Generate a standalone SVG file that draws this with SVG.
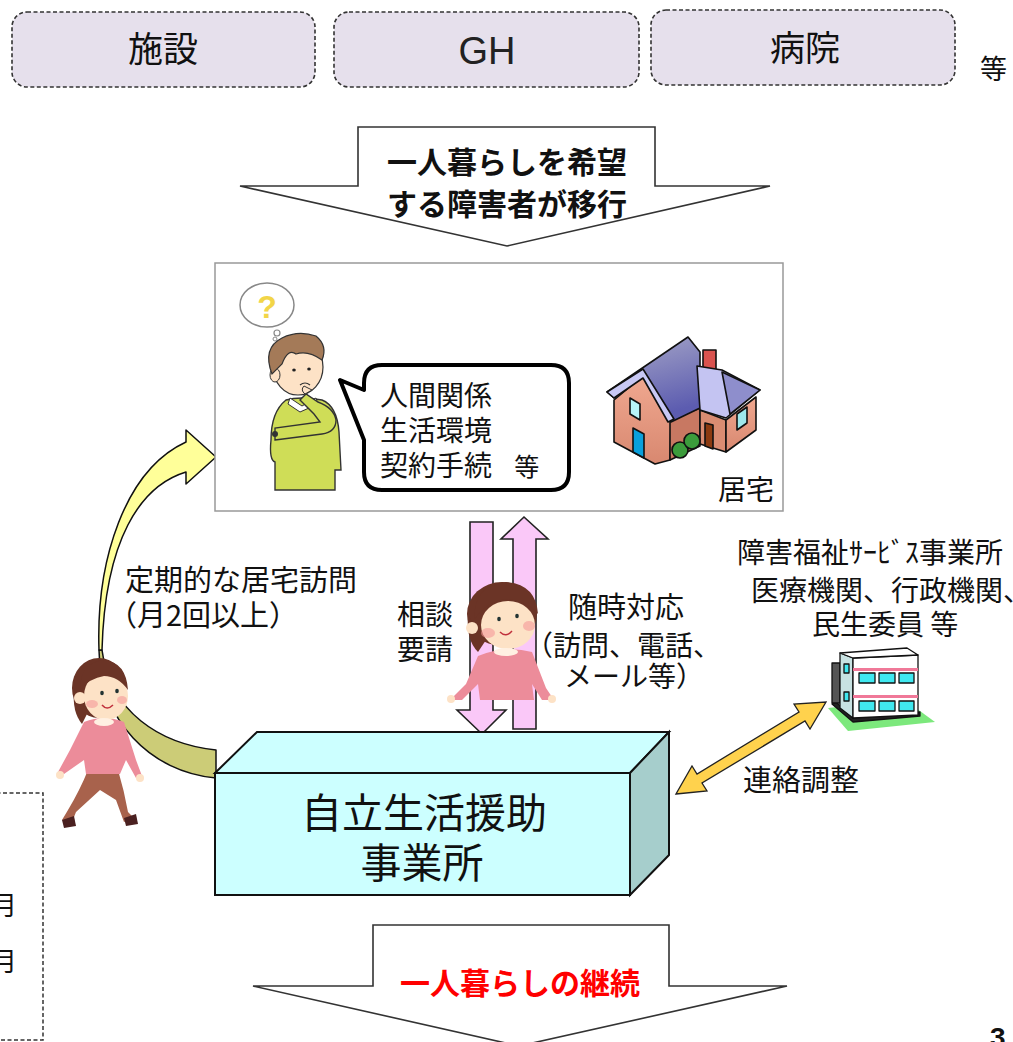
<svg xmlns="http://www.w3.org/2000/svg" width="1013" height="1042" viewBox="0 0 1013 1042">
<defs>
<style>
.t{font-family:"Noto Sans CJK JP","Noto Sans",sans-serif;fill:#111}
.b{font-weight:bold}
.src{fill:#E6E0EC;stroke:#333;stroke-width:1.6;stroke-dasharray:4 2.5}
.blk{fill:#fff;stroke:#333;stroke-width:1.6;stroke-linejoin:miter}
.pk{fill:#FAC8F8;stroke:#222;stroke-width:1.6}
.ol{stroke:#111;stroke-width:1.5;stroke-linejoin:round}
.hair{fill:#6B3426}
.skin{fill:#FDE2C6}
.cheek{fill:#F59A9A;opacity:0.6}
</style>
<linearGradient id="roofG" x1="0" y1="0" x2="0.3" y2="1">
<stop offset="0" stop-color="#A8A8C8"/><stop offset="1" stop-color="#5C5CB0"/>
</linearGradient>
<linearGradient id="wallG" x1="0" y1="0" x2="0" y2="1">
<stop offset="0" stop-color="#F0A890"/><stop offset="1" stop-color="#D88870"/>
</linearGradient>
</defs>
<rect width="1013" height="1042" fill="#fff"/>

<!-- source places -->
<g id="node-shisetsu">
<rect class="src" x="12" y="12" width="303" height="75" rx="15"/>
<text class="t" x="163" y="62" font-size="35" text-anchor="middle">施設</text>
</g>
<g id="node-gh">
<rect class="src" x="334" y="12" width="305" height="75" rx="15"/>
<text x="487" y="64" font-size="38" text-anchor="middle" font-family="Liberation Sans, Arial, sans-serif" fill="#222">GH</text>
</g>
<g id="node-byoin">
<rect class="src" x="651" y="10" width="304" height="75" rx="15"/>
<text class="t" x="805" y="61" font-size="35" text-anchor="middle">病院</text>
</g>
<text class="t" id="label-tou" x="980" y="79" font-size="27">等</text>

<!-- connectors -->
<g id="connectors">
<polygon class="blk" points="358,127 655,127 655,186 770,186 507,246 240,186 358,186"/>
<text class="t b" x="507" y="173" font-size="30" text-anchor="middle">一人暮らしを希望</text>
<text class="t b" x="507" y="215" font-size="30" text-anchor="middle">する障害者が移行</text>

<path d="M99,650 C100,720 150,772 216,778 L216,750 C160,744 110,712 102,650 Z" fill="#CCCC77" class="ol"/>
<path d="M186,442 L186,430 L216,457 L186,484 L186,472 C140,486 105,540 102,650 L99,650 C96,560 125,470 186,442 Z" fill="#FFFF99" class="ol"/>

<polygon class="pk" points="470,522 493,522 493,710 506,710 482,734 457,710 470,710"/>
<polygon class="pk" points="513,729 536,729 536,539 548,539 524,517 501,539 513,539"/>

<polygon points="676,794 707,791 702,783 805,721 810,729 826,702 794,704 799,712 697,774 692,766" fill="#FFD24D" stroke="#222" stroke-width="1.3" stroke-linejoin="miter"/>

<polygon class="blk" points="373,925 669,925 669,986 787,986 519,1046 253,986 373,986"/>
<text class="b" x="520" y="994" font-size="30" text-anchor="middle" font-family="Noto Sans CJK JP, sans-serif" fill="#FF0000">一人暮らしの継続</text>
</g>

<!-- residence -->
<g id="node-kyotaku">
<rect x="215" y="263" width="568" height="248" fill="#fff" stroke="#999" stroke-width="1.5"/>
<g id="man">
<ellipse cx="267" cy="305" rx="27" ry="22" fill="#fff" stroke="#888" stroke-width="1.5"/>
<circle cx="277" cy="333" r="3" fill="#fff" stroke="#888" stroke-width="1.2"/>
<circle cx="275" cy="339" r="2" fill="#fff" stroke="#888" stroke-width="1"/>
<text x="267" y="318" font-size="32" font-weight="bold" text-anchor="middle" font-family="Liberation Sans, sans-serif" fill="#F2D548">?</text>
<path d="M286,400 Q300,396 322,400 Q337,406 339,432 L341,470 L335,470 L335,490 L275,490 L275,462 Q269,460 271,440 Q271,412 286,400 Z" fill="#CFDD57" stroke="#333" stroke-width="1.4"/>
<path d="M290,398 L302,406 L316,398 L318,404 L300,412 L288,404 Z" fill="#fff" stroke="#333" stroke-width="1"/>
<path d="M275,440 L322,434 Q336,432 336,420 Q334,408 318,402 L306,394 L300,400 L314,414 L320,422 L275,428 Z" fill="#CFDD57" stroke="#333" stroke-width="1.4"/>
<circle cx="275" cy="434" r="3" fill="#333"/>
<ellipse cx="298" cy="367" rx="25" ry="28" class="skin" stroke="#333" stroke-width="1.2"/>
<ellipse cx="275" cy="375" rx="5" ry="7" class="skin" stroke="#333" stroke-width="1"/>
<path d="M272,374 Q262,348 282,338 Q298,330 316,336 Q328,346 322,360 Q308,350 296,354 Q288,348 282,364 Z" fill="#A47A58" stroke="#333" stroke-width="1.2"/>
<ellipse cx="294" cy="370" rx="1.8" ry="1.5" fill="#222"/>
<ellipse cx="309" cy="369" rx="1.8" ry="1.5" fill="#222"/>
<path d="M300,385 Q305,381 310,385" fill="none" stroke="#333" stroke-width="1.2"/>
<path d="M305,394 Q300,390 304,386 L312,390 Z" class="skin" stroke="#333" stroke-width="1"/>
</g>
<path d="M382,365 H551 Q569,365 569,383 V472 Q569,490 551,490 H382 Q364,490 364,472 V440 L340,380 L364,390 V383 Q364,365 382,365 Z" fill="#fff" stroke="#000" stroke-width="4" stroke-linejoin="round"/>
<text class="t" x="380" y="406" font-size="28">人間関係</text>
<text class="t" x="380" y="441" font-size="28">生活環境</text>
<text class="t" x="380" y="476" font-size="28">契約手続 <tspan font-size="25" dx="16">等</tspan></text>
<g id="house" stroke="#111" stroke-width="1.6" stroke-linejoin="round">
<polygon points="614,400 643,376 671,420 670,460 655,464 614,442" fill="url(#wallG)"/>
<polygon points="670,420 700,408 700,446 670,460" fill="#C87862"/>
<polygon points="700,410 726,420 726,452 700,444" fill="#D98C72"/>
<polygon points="726,420 756,397 756,430 726,452" fill="url(#wallG)"/>
<polygon points="607,392 688,337 700,352 700,408 671,422 643,374 614,398" fill="url(#roofG)"/>
<polygon points="607,392 643,369 674,419 668,422 643,378 614,398" fill="#C8C8F4"/>
<rect x="703" y="350" width="13" height="22" fill="#D9534F"/>
<polygon points="697,366 722,370 760,390 726,418 700,410" fill="#C4C4F2"/>
<polygon points="722,372 760,390 730,414" fill="#8E8ECC"/>
<polygon points="630,398 640,404 640,420 630,414" fill="#B8F4F8"/>
<polygon points="633,428 644,434 644,458 633,452" fill="#0AA0DC"/>
<polygon points="705,423 713,425 713,449 705,446" fill="#8B3A10"/>
<polygon points="737,414 747,407 747,423 737,430" fill="#9EE8EC"/>
<circle cx="680" cy="450" r="8" fill="#3C9C3C"/>
<circle cx="692" cy="441" r="8" fill="#3C9C3C"/>
</g>
<text class="t" x="718" y="500" font-size="28">居宅</text>
</g>

<g id="label-visit">
<text class="t" x="125" y="591" font-size="29">定期的な居宅訪問</text>
<text class="t" x="108" y="626" font-size="29">（月2回以上）</text>
</g>
<g id="label-soudan">
<text class="t" x="397" y="625" font-size="28">相談</text>
<text class="t" x="397" y="660" font-size="28">要請</text>
</g>
<g id="label-zuiji">
<text class="t" x="626" y="618" font-size="29" text-anchor="middle">随時対応</text>
<text class="t" x="623" y="656" font-size="28" text-anchor="middle">（訪問、電話、</text>
<text class="t" x="634" y="687" font-size="28" text-anchor="middle">メール等）</text>
</g>

<g id="woman-left">
<path d="M88,770 L118,770 Q124,790 128,812 L134,818 L124,822 L116,800 L100,790 L76,812 L72,822 L62,820 L68,810 Q80,790 88,770 Z" fill="#A8624C"/>
<path d="M62,820 L74,816 L76,826 L64,828 Z" fill="#4A2020"/>
<path d="M124,818 L136,814 L138,824 L126,826 Z" fill="#4A2020"/>
<path d="M84,722 Q104,714 124,722 L136,760 L142,776 L136,778 L126,760 L120,774 L86,774 L84,760 L64,774 L58,772 L70,750 Z" fill="#EC8C9A"/>
<circle cx="60" cy="775" r="4" class="skin"/>
<circle cx="140" cy="778" r="4" class="skin"/>
<ellipse cx="99" cy="688" rx="27" ry="30" class="hair"/>
<path d="M74,690 Q72,712 82,724 L88,712 Z" class="hair"/>
<ellipse cx="106" cy="696" rx="22" ry="24" class="skin"/>
<path d="M80,690 Q80,662 104,660 Q126,662 128,690 Q118,676 104,676 Q90,678 80,690 Z" class="hair"/>
<circle cx="80" cy="698" r="6" class="skin"/>
<ellipse cx="92" cy="704" rx="6" ry="4" class="cheek"/>
<ellipse cx="122" cy="700" rx="5" ry="4" class="cheek"/>
<ellipse cx="102" cy="693" rx="1.8" ry="2.2" fill="#233"/>
<ellipse cx="117" cy="691" rx="1.8" ry="2.2" fill="#233"/>
<path d="M102,705 Q107,711 113,705" fill="none" stroke="#C0303C" stroke-width="1.5"/>
<ellipse cx="104" cy="722" rx="10" ry="4" fill="#FFF0E2"/>
</g>

<g id="woman-center">
<path d="M478,656 Q505,645 532,652 L546,688 L554,700 L542,700 L532,684 L534,700 L480,700 L478,684 L462,700 L450,700 L466,684 Z" fill="#EC8C9A"/>
<circle cx="451" cy="699" r="4" class="skin"/>
<circle cx="552" cy="699" r="4" class="skin"/>
<ellipse cx="502" cy="614" rx="35" ry="32" class="hair"/>
<path d="M468,616 Q466,640 478,652 L486,640 Z" class="hair"/>
<ellipse cx="508" cy="625" rx="27" ry="24" class="skin"/>
<path d="M474,620 Q474,584 506,582 Q536,584 538,614 Q526,600 507,599 Q488,600 474,620 Z" class="hair"/>
<circle cx="472" cy="628" r="6" class="skin"/>
<ellipse cx="488" cy="633" rx="7" ry="5" class="cheek"/>
<ellipse cx="529" cy="626" rx="6" ry="5" class="cheek"/>
<ellipse cx="499" cy="619" rx="1.8" ry="2.2" fill="#233"/>
<ellipse cx="517" cy="616" rx="1.8" ry="2.2" fill="#233"/>
<path d="M500,632 Q506,638 512,631" fill="none" stroke="#C0303C" stroke-width="1.5"/>
<ellipse cx="506" cy="652" rx="12" ry="4" fill="#FFF0E2"/>
</g>

<g id="node-others">
<text class="t" x="737" y="563" font-size="28">障害福祉ｻｰﾋﾞｽ事業所</text>
<text class="t" x="751" y="601" font-size="28">医療機関、行政機関、</text>
<text class="t" x="812" y="635" font-size="28">民生委員 等</text>
<g id="building" stroke="#111" stroke-width="1.3" stroke-linejoin="round">
<polygon points="828,708 848,731 935,722 905,700" fill="#7CE87C" stroke="none"/>
<polygon points="832,704 853,722 920,716 920,712 853,718 836,702" fill="#222"/>
<rect x="832" y="663" width="8" height="40" fill="#555"/>
<polygon points="840,653 853,658 853,718 840,708" fill="#C8E2E2"/>
<polygon points="853,658 918,655 918,715 853,718" fill="#fff"/>
<polygon points="840,653 907,648 918,655 853,658" fill="#fff"/>
<rect x="853" y="668" width="65" height="3" fill="#F07898" stroke="none"/>
<rect x="853" y="695" width="65" height="3" fill="#F07898" stroke="none"/>
<rect x="859" y="673" width="16" height="10" fill="#40E8F0"/>
<rect x="879" y="673" width="16" height="10" fill="#40E8F0"/>
<rect x="899" y="673" width="15" height="10" fill="#40E8F0"/>
<rect x="859" y="701" width="16" height="10" fill="#40E8F0"/>
<rect x="879" y="701" width="16" height="10" fill="#40E8F0"/>
<rect x="899" y="701" width="15" height="10" fill="#40E8F0"/>
<rect x="844" y="664" width="5" height="9" fill="#40E8F0"/>
<rect x="844" y="692" width="5" height="9" fill="#40E8F0"/>
</g>
</g>
<text class="t" id="label-renraku" x="743" y="791" font-size="29">連絡調整</text>

<g id="node-jiritsu">
<polygon points="215,773 257,732 669,732 630,773" fill="#CCFFFF" stroke="#111" stroke-width="2"/>
<polygon points="630,773 669,732 669,855 630,895" fill="#A6CECC" stroke="#111" stroke-width="2"/>
<rect x="215" y="773" width="415" height="122" fill="#CCFFFF" stroke="#111" stroke-width="2"/>
<text class="t" x="424" y="828" font-size="41" text-anchor="middle">自立生活援助</text>
<text class="t" x="422" y="878" font-size="41" text-anchor="middle">事業所</text>
</g>

<g id="node-left-box">
<rect x="-10" y="793" width="53" height="247" fill="none" stroke="#333" stroke-width="1.5" stroke-dasharray="4 2.5"/>
<text class="t" x="-9" y="915" font-size="26">月</text>
<text class="t" x="-9" y="971" font-size="26">月</text>
</g>
<text x="990" y="1047" font-size="28" font-weight="bold" font-family="Liberation Sans, sans-serif" fill="#111">3</text>
</svg>
